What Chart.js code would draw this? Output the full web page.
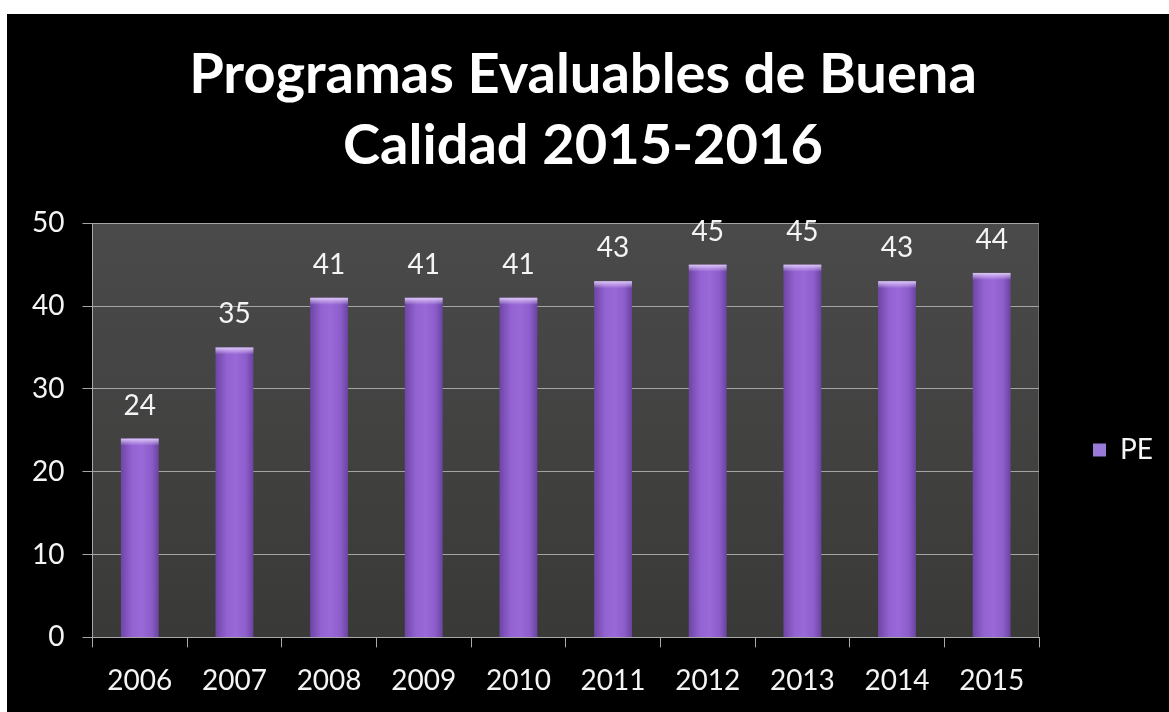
<!DOCTYPE html>
<html>
<head>
<meta charset="utf-8">
<script src="https://cdn.jsdelivr.net/npm/chart.js@4"></script>
<style>
html,body{margin:0;padding:0;background:#ffffff;width:1169px;height:712px;overflow:hidden;}
#wrap{position:absolute;left:7px;top:14px;width:1162px;height:698px;background:#000000;}
canvas{display:block;}
</style>
</head>
<body>
<div id="wrap"><canvas id="c" width="1162" height="698"></canvas></div>
<script>
const titleLines = ["Programas Evaluables de Buena", "Calidad 2015-2016"];
const categories = ["2006","2007","2008","2009","2010","2011","2012","2013","2014","2015"];
const seriesName = "PE";
const peValues = [24, 35, 41, 41, 41, 43, 45, 45, 43, 44];
const yTicks = [0, 10, 20, 30, 40, 50];

const FONT = "Lato, 'Open Sans', 'DejaVu Sans', sans-serif";
const BAR_PCT = 0.4;

function barGradient(c) {
  const chart = c.chart;
  const xs = chart.scales && chart.scales.x;
  if (!chart.chartArea || !xs || c.dataIndex === undefined) return '#8f62cc';
  const x = xs.getPixelForValue(c.dataIndex);
  const hw = xs.width / categories.length * BAR_PCT / 2;
  const g = chart.ctx.createLinearGradient(x - hw, 0, x + hw, 0);
  g.addColorStop(0, '#6e45a6');
  g.addColorStop(0.3, '#9463d2');
  g.addColorStop(0.55, '#9a68d8');
  g.addColorStop(0.8, '#8d5ecb');
  g.addColorStop(1, '#6a43a0');
  return g;
}

const plotBg = {
  id: 'plotBg',
  beforeDraw(chart) {
    const a = chart.chartArea, ctx = chart.ctx;
    ctx.save();
    const g = ctx.createLinearGradient(0, a.top, 0, a.bottom);
    g.addColorStop(0, '#4a4a4a');
    g.addColorStop(1, '#393a38');
    ctx.fillStyle = g;
    ctx.fillRect(a.left, a.top, a.right - a.left, a.bottom - a.top);
    ctx.strokeStyle = '#6a6a6a';
    ctx.lineWidth = 1;
    ctx.beginPath();
    ctx.moveTo(a.right - 0.5, a.top);
    ctx.lineTo(a.right - 0.5, a.bottom);
    ctx.stroke();
    ctx.restore();
  }
};

const barDecor = {
  id: 'barDecor',
  afterDatasetsDraw(chart) {
    const ctx = chart.ctx;
    const meta = chart.getDatasetMeta(0);
    ctx.save();
    meta.data.forEach((el, i) => {
      const hw = el.width / 2;
      const g = ctx.createLinearGradient(0, el.y, 0, el.y + 7);
      g.addColorStop(0, 'rgba(225,205,250,0.95)');
      g.addColorStop(1, 'rgba(225,205,250,0)');
      ctx.fillStyle = g;
      ctx.fillRect(el.x - hw, el.y, hw * 2, 7);
      ctx.fillStyle = '#f4f4f4';
      ctx.font = '28px ' + FONT;
      ctx.textAlign = 'center';
      ctx.textBaseline = 'alphabetic';
      ctx.fillText(String(peValues[i]), el.x, el.y - 24);
    });
    ctx.restore();
  }
};

new Chart(document.getElementById('c'), {
  type: 'bar',
  data: {
    labels: categories,
    datasets: [{
      label: seriesName,
      data: peValues,
      backgroundColor: barGradient,
      borderWidth: 0,
      categoryPercentage: 1,
      barPercentage: BAR_PCT
    }]
  },
  options: {
    responsive: false,
    animation: false,
    layout: { padding: { left: 7, right: 17, top: 0, bottom: -3 } },
    plugins: {
      title: {
        display: true,
        text: titleLines,
        color: '#ffffff',
        font: { family: FONT, size: 56, weight: 'bold', lineHeight: 1.27 },
        padding: { top: 25, bottom: 42 }
      },
      legend: {
        display: true,
        position: 'right',
        align: 'start',
        maxWidth: 113,
        title: { display: true, text: ' ', padding: { top: 0, bottom: 356 }, font: { size: 10 } },
        labels: {
          color: '#f4f4f4',
          font: { family: FONT, size: 28 },
          boxWidth: 13,
          boxHeight: 13,
          padding: 54,
          generateLabels(chart) {
            return [{ text: seriesName, fillStyle: '#9a7ad8', strokeStyle: '#9a7ad8', lineWidth: 0, fontColor: '#f4f4f4', datasetIndex: 0 }];
          }
        }
      },
      tooltip: { enabled: false }
    },
    scales: {
      x: {
        grid: { display: true, offset: true, drawOnChartArea: false, drawTicks: true, tickLength: 10, color: '#a8a8a8' },
        border: { display: true, color: '#a8a8a8', width: 1 },
        ticks: { color: '#f4f4f4', font: { family: FONT, size: 28 }, padding: 17, maxRotation: 0 }
      },
      y: {
        min: 0,
        max: 50,
        afterBuildTicks(axis) { axis.ticks = yTicks.map(v => ({ value: v })); },
        grid: { color: '#a4a4a4', lineWidth: 1, drawTicks: true, tickLength: 10 },
        border: { display: true, color: '#a8a8a8', width: 1 },
        ticks: { color: '#f4f4f4', font: { family: FONT, size: 28 }, padding: 18 }
      }
    }
  },
  plugins: [plotBg, barDecor]
});
</script>
</body>
</html>
